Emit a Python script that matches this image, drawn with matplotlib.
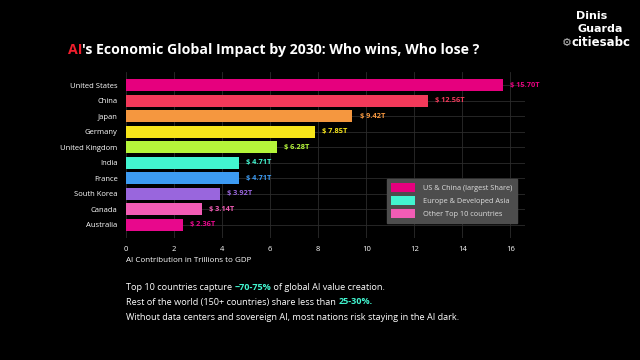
import matplotlib
matplotlib.use("Agg")
import matplotlib.pyplot as plt
from matplotlib.patches import Patch

countries = ["United States", "China", "Japan", "Germany", "United Kingdom",
             "India", "France", "South Korea", "Canada", "Australia"]
values = [15.70, 12.56, 9.42, 7.85, 6.28, 4.71, 4.71, 3.92, 3.14, 2.36]
colors = ["#E6007E", "#F2395A", "#F5973F", "#F7E51A", "#B5F53A",
          "#42F5D0", "#3D9BF2", "#9966DD", "#F25CB5", "#E8088C"]
xticks = [0, 2, 4, 6, 8, 10, 12, 14, 16]
legend_labels = ["US & China (largest Share)", "Europe & Developed Asia", "Other Top 10 countries"]
legend_colors = ["#E6007E", "#42F5D0", "#F25CB5"]

FONT = "Open Sans"
BG = "#000000"

fig = plt.figure(figsize=(6.4, 3.6), dpi=100, facecolor=BG)
ax = fig.add_axes([0.197, 0.339, 0.623, 0.461], facecolor=BG)

ypos = list(range(len(countries)))
ax.barh(ypos, values, height=0.78, color=colors, zorder=3)
for y, v, c in zip(ypos, values, colors):
    ax.text(v + 0.3, y, f"$ {v:.2f}T", color=c, fontsize=5.3, va="center",
            ha="left", family=FONT, fontweight="bold", zorder=4)

ax.set_yticks(ypos)
ax.set_yticklabels(countries, color="white", fontsize=5.5, family=FONT)
ax.set_xticks(xticks)
ax.set_xticklabels([str(t) for t in xticks], color="white", fontsize=5.5, family=FONT)
ax.set_xlim(0, 16.6)
ax.set_ylim(9.85, -0.85)
ax.tick_params(length=0, pad=6)
for s in ax.spines.values():
    s.set_visible(False)
ax.grid(True, color="#2c2c2c", linewidth=0.6, zorder=0)
ax.set_axisbelow(True)

handles = [Patch(facecolor=c, edgecolor="none") for c in legend_colors]
leg = ax.legend(handles, legend_labels, loc="lower right",
                bbox_to_anchor=(0.99, 0.07), fontsize=5.3, frameon=True,
                facecolor="#4d4d4d", edgecolor="#4d4d4d", framealpha=1,
                handlelength=3.2, handleheight=1.5, labelspacing=0.55,
                borderpad=0.6, handletextpad=1.2, fancybox=False,
                prop={"family": FONT, "size": 5.3})
for t in leg.get_texts():
    t.set_color("#dddddd")

fig.text(126 / 640, 1 - 261 / 360, "AI Contribution in Trillions to GDP",
         color="white", fontsize=5.8, family=FONT, va="center", ha="left")

renderer = fig.canvas.get_renderer()


def seq_text(x_px, y_px, parts, size):
    x = x_px
    for txt, col, w in parts:
        t = fig.text(x / 640, 1 - y_px / 360, txt, color=col, fontsize=size,
                     family=FONT, fontweight=w, va="center", ha="left")
        bb = t.get_window_extent(renderer=renderer)
        x = bb.x1


# Title
seq_text(68, 50, [("AI", "#F01E2C", "bold"),
                  ("'s Economic Global Impact by 2030: Who wins, Who lose ?", "white", "bold")], 10.2)

# Bottom text
aqua = "#42F5D0"
seq_text(126, 287, [("Top 10 countries capture ", "white", "normal"),
                    ("~70-75%", aqua, "bold"),
                    (" of global AI value creation.", "white", "normal")], 6.6)
seq_text(126, 302, [("Rest of the world (150+ countries) share less than ", "white", "normal"),
                    ("25-30%.", aqua, "bold")], 6.6)
seq_text(126, 317, [("Without data centers and sovereign AI, most nations risk staying in the AI dark.",
                     "white", "normal")], 6.6)

# Logo
fig.text(576 / 640, 1 - 16 / 360, "Dinis", color="white", fontsize=8, fontweight="bold",
         family="DejaVu Sans", va="center", ha="left")
fig.text(578 / 640, 1 - 29 / 360, "Guarda", color="white", fontsize=8, fontweight="bold",
         family="DejaVu Sans", va="center", ha="left")
fig.text(572 / 640, 1 - 43 / 360, "citiesabc", color="white", fontsize=8.5, fontweight="bold",
         family="DejaVu Sans", va="center", ha="left")
fig.text(562 / 640, 1 - 43 / 360, "\u2699", color="#bbbbbb", fontsize=8,
         family="DejaVu Sans", va="center", ha="left")

fig.savefig("out.png", dpi=100, facecolor=BG)
